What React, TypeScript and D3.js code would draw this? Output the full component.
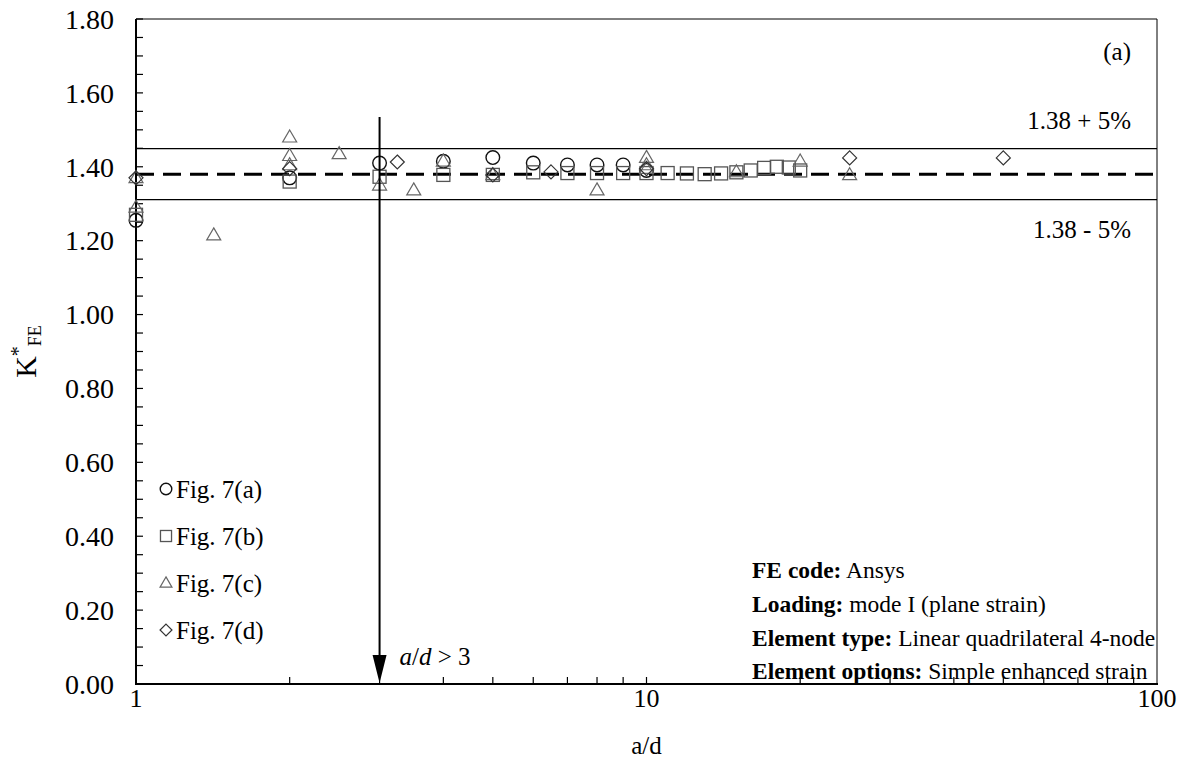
import React, { useLayoutEffect } from "react";
import * as d3 from "d3";

// Fig. 7(a) .. 7(d) data
const circX = [1, 2, 3, 4, 5, 6, 7, 8, 9, 10];
const circY = [1.255, 1.37, 1.41, 1.415, 1.425, 1.41, 1.405, 1.405, 1.405, 1.39];

const sqX = [1, 2, 3, 4, 5, 6, 7, 8, 9, 10, 11, 12, 13, 14, 15, 16, 17, 18, 19, 20];
const sqY = [1.27, 1.36, 1.373, 1.378, 1.378, 1.385, 1.383, 1.383, 1.383, 1.383,
  1.383, 1.382, 1.38, 1.382, 1.385, 1.39, 1.397, 1.4, 1.398, 1.39];

const triX = [1, 1, 1.42, 2, 2, 2, 2.5, 3, 3.5, 4, 5, 8, 10, 10, 10, 15, 20, 25];
const triY = [1.37, 1.29, 1.215, 1.48, 1.43, 1.405, 1.435, 1.35, 1.337, 1.415,
  1.378, 1.337, 1.425, 1.405, 1.395, 1.386, 1.415, 1.378];

const diaX = [1, 2, 3.25, 5, 6.5, 10, 25, 50];
const diaY = [1.37, 1.395, 1.413, 1.378, 1.386, 1.395, 1.424, 1.424];

const yTicks = [0, 0.2, 0.4, 0.6, 0.8, 1.0, 1.2, 1.4, 1.6, 1.8];
const xTicks = [1, 10, 100];
const legendLabels = ["Fig. 7(a)", "Fig. 7(b)", "Fig. 7(c)", "Fig. 7(d)"];
const refValue = 1.38;
const band = 0.05;
const cutoff = 3;

const W = 1187;
const H = 772;
const margin = { top: 19, right: 30, bottom: 88, left: 136 };
const font = "'Liberation Serif', 'Times New Roman', serif";

const Marker = ({ kind, x, y, s = 1 }: { kind: string; x: number; y: number; s?: number }) => {
  if (kind === "circle")
    return <circle cx={x} cy={y} r={6.8 * s} fill="none" stroke="#111" strokeWidth={1.4} />;
  if (kind === "square")
    return <rect x={x - 6.5 * s} y={y - 6.5 * s} width={13 * s} height={13 * s} fill="none" stroke="#555" strokeWidth={1.3} />;
  if (kind === "triangle") {
    const h = 12 * s, w = 7 * s;
    return <path d={`M${x},${y - h * 0.6}L${x + w},${y + h * 0.4}L${x - w},${y + h * 0.4}Z`} fill="none" stroke="#666" strokeWidth={1.2} />;
  }
  const r = 7 * s;
  return <path d={`M${x},${y - r}L${x + r},${y}L${x},${y + r}L${x - r},${y}Z`} fill="none" stroke="#333" strokeWidth={1.2} />;
};

export default function App() {
  useLayoutEffect(() => {
    document.body.style.margin = "0";
  }, []);

  const x0 = margin.left, x1 = W - margin.right;
  const y0 = H - margin.bottom, y1 = margin.top;
  const x = d3.scaleLog().domain([1, 100]).range([x0, x1]);
  const y = d3.scaleLinear().domain([0, 1.8]).range([y0, y1]);

  const minorY = d3.range(0, 1.8001, 0.05);
  const minorX = [2, 3, 4, 5, 6, 7, 8, 9, 10, 20, 30, 40, 50, 60, 70, 80, 90];

  const series = [
    { kind: "circle", xs: circX, ys: circY },
    { kind: "square", xs: sqX, ys: sqY },
    { kind: "triangle", xs: triX, ys: triY },
    { kind: "diamond", xs: diaX, ys: diaY },
  ];
  const kinds = series.map((s) => s.kind);

  const yUp = y(refValue * (1 + band));
  const yLo = y(refValue * (1 - band));
  const yRef = y(refValue);
  const xa = x(cutoff);

  return (
    <svg width={W} height={H} style={{ display: "block", background: "#fff" }} fontFamily={font}>
      {/* frame */}
      <line x1={x0} x2={x1} y1={y1} y2={y1} stroke="#000" strokeWidth={1} />
      <line x1={x1} x2={x1} y1={y1} y2={y0} stroke="#000" strokeWidth={1} />
      <line x1={x0} x2={x0} y1={y1} y2={y0 + 1} stroke="#000" strokeWidth={2} />
      <line x1={x0 - 1} x2={x1 + 1} y1={y0} y2={y0} stroke="#000" strokeWidth={2} />

      {/* y ticks */}
      {minorY.map((v, i) => (
        <line key={"my" + i} x1={x0} x2={x0 + 7} y1={y(v)} y2={y(v)} stroke="#000" strokeWidth={1.2} />
      ))}
      {yTicks.map((v) => (
        <text key={"yt" + v} x={x0 - 22} y={y(v)} dy="0.35em" textAnchor="end" fontSize={28}>
          {v.toFixed(2)}
        </text>
      ))}

      {/* x ticks */}
      {minorX.map((v) => (
        <line key={"mx" + v} x1={x(v)} x2={x(v)} y1={y0} y2={y0 - 7} stroke="#000" strokeWidth={1.2} />
      ))}
      {xTicks.map((v) => (
        <text key={"xt" + v} x={x(v)} y={y0 + 23} textAnchor="middle" fontSize={26}>
          {v}
        </text>
      ))}

      {/* axis titles */}
      <text x={(x0 + x1) / 2} y={y0 + 70} textAnchor="middle" fontSize={25}>a/d</text>
      <text transform={`translate(36,${(y0 + y1) / 2}) rotate(-90)`} textAnchor="middle" fontSize={30}>
        K<tspan dy={-11} fontSize={20}>*</tspan>
        <tspan dy={16} fontSize={18}>FE</tspan>
      </text>

      {/* reference band */}
      <line x1={x0} x2={x1} y1={yUp} y2={yUp} stroke="#000" strokeWidth={1.3} />
      <line x1={x0} x2={x1} y1={yLo} y2={yLo} stroke="#000" strokeWidth={1.3} />
      <line x1={x0} x2={x1} y1={yRef} y2={yRef} stroke="#000" strokeWidth={3} strokeDasharray="18 9" />

      {/* data */}
      {series.map((s) =>
        s.xs.map((xv, i) => <Marker key={s.kind + i} kind={s.kind} x={x(xv)} y={y(s.ys[i])} />)
      )}

      {/* arrow a/d > 3 */}
      <line x1={xa} x2={xa} y1={117} y2={y0 - 20} stroke="#000" strokeWidth={2} />
      <path d={`M${xa - 7},${y0 - 29}L${xa + 7},${y0 - 29}L${xa},${y0 - 1}Z`} fill="#000" />
      <text x={xa + 20} y={y0 - 19} fontSize={25}>
        <tspan fontStyle="italic">a</tspan>/<tspan fontStyle="italic">d</tspan> &gt; 3
      </text>

      {/* band labels */}
      <text x={1131} y={yUp - 20} textAnchor="end" fontSize={25}>1.38 + 5%</text>
      <text x={1131} y={yLo + 38} textAnchor="end" fontSize={25}>1.38 - 5%</text>
      <text x={1131} y={60} textAnchor="end" fontSize={25}>(a)</text>

      {/* legend */}
      {legendLabels.map((lab, i) => {
        const ly = 489 + i * 47;
        return (
          <g key={lab}>
            <Marker kind={kinds[i]} x={166} y={ly} s={0.85} />
            <text x={176} y={ly} dy="0.35em" fontSize={25}>{lab}</text>
          </g>
        );
      })}

      {/* info block */}
      {[
        ["FE code:", " Ansys"],
        ["Loading:", " mode I (plane strain)"],
        ["Element type:", " Linear quadrilateral 4-node"],
        ["Element options:", " Simple enhanced strain"],
      ].map(([b, t], i) => (
        <text key={b} x={752} y={570 + i * 33.7} dy="0.35em" fontSize={23.5}>
          <tspan fontWeight="bold">{b}</tspan>
          {t}
        </text>
      ))}
    </svg>
  );
}
